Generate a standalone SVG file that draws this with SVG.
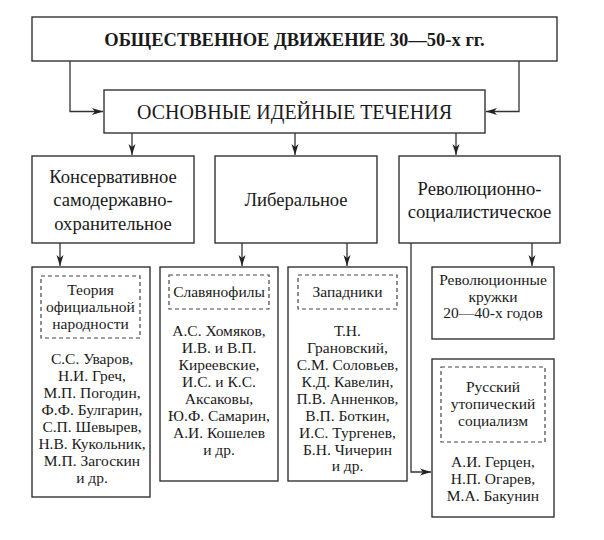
<svg xmlns="http://www.w3.org/2000/svg" width="604" height="540" viewBox="0 0 604 540" font-family="'Liberation Serif', 'Times New Roman', serif">
<style>
.box{fill:#fff;stroke:#333;stroke-width:1.4}
.dash{fill:none;stroke:#444;stroke-width:1.2;stroke-dasharray:4 3}
.ln{fill:none;stroke:#333;stroke-width:1.3}
text{fill:#1a1a1a;text-anchor:middle}
.h1{font-size:18.5px;font-weight:bold}
.h2{font-size:20px}
.t3{font-size:18.6px}
.t4{font-size:15.5px}
</style>
<defs>
<marker id="ar" markerWidth="12" markerHeight="8" refX="11" refY="4" orient="auto" markerUnits="userSpaceOnUse">
<path d="M0,0.5 L11,4 L0,7.5 L3,4 Z" fill="#222"/>
</marker>
</defs>
<rect width="604" height="540" fill="#fff"/>
<g id="connectors">
<path class="ln" d="M70 61 V111.5 H103" marker-end="url(#ar)"/>
<path class="ln" d="M519 61 V111.5 H486" marker-end="url(#ar)"/>
<path class="ln" d="M132 133 V155" marker-end="url(#ar)"/>
<path class="ln" d="M295 133 V155" marker-end="url(#ar)"/>
<path class="ln" d="M456 133 V155" marker-end="url(#ar)"/>
<path class="ln" d="M60 243 V266" marker-end="url(#ar)"/>
<path class="ln" d="M242 243 V266" marker-end="url(#ar)"/>
<path class="ln" d="M347 243 V266" marker-end="url(#ar)"/>
<path class="ln" d="M532 243 V266" marker-end="url(#ar)"/>
<path class="ln" d="M411 243 V472 H431" marker-end="url(#ar)"/>
</g>
<g id="n-top">
<rect class="box" x="32" y="17" width="525" height="44"/>
<text class="h1" x="294.5" y="46">ОБЩЕСТВЕННОЕ ДВИЖЕНИЕ 30—50-х гг.</text>
</g>
<g id="n-main">
<rect class="box" x="104" y="90" width="381" height="43"/>
<text class="h2" x="294.5" y="119">ОСНОВНЫЕ ИДЕЙНЫЕ ТЕЧЕНИЯ</text>
</g>
<g id="n-cons">
<rect class="box" x="32" y="156" width="162" height="87"/>
<text class="t3" x="113" y="183">Консервативное</text>
<text class="t3" x="113" y="206">самодержавно-</text>
<text class="t3" x="113" y="229.5">охранительное</text>
</g>
<g id="n-lib">
<rect class="box" x="215" y="156" width="162" height="87"/>
<text class="t3" x="296" y="206">Либеральное</text>
</g>
<g id="n-rev">
<rect class="box" x="399" y="156" width="161" height="87"/>
<text class="t3" x="479.5" y="195">Революционно-</text>
<text class="t3" x="479.5" y="218">социалистическое</text>
</g>
<g id="n-official">
<rect class="box" x="32" y="267" width="118" height="230"/>
<rect class="dash" x="41" y="276" width="99" height="62"/>
<text class="t4" x="90.5" y="295">Теория</text>
<text class="t4" x="90.5" y="312">официальной</text>
<text class="t4" x="90.5" y="329">народности</text>
<text class="t4" x="92" y="364">С.С. Уваров,</text>
<text class="t4" x="92" y="381">Н.И. Греч,</text>
<text class="t4" x="92" y="398">М.П. Погодин,</text>
<text class="t4" x="92" y="415">Ф.Ф. Булгарин,</text>
<text class="t4" x="92" y="432">С.П. Шевырев,</text>
<text class="t4" x="92" y="449">Н.В. Кукольник,</text>
<text class="t4" x="92" y="466">М.П. Загоскин</text>
<text class="t4" x="92" y="483">и др.</text>
</g>
<g id="n-slav">
<rect class="box" x="160" y="267" width="118" height="214"/>
<rect class="dash" x="169" y="275" width="100" height="34"/>
<text class="t4" x="219" y="297">Славянофилы</text>
<text class="t4" x="219" y="336">А.С. Хомяков,</text>
<text class="t4" x="219" y="353">И.В. и В.П.</text>
<text class="t4" x="219" y="370">Киреевские,</text>
<text class="t4" x="219" y="387">И.С. и К.С.</text>
<text class="t4" x="219" y="404">Аксаковы,</text>
<text class="t4" x="219" y="421">Ю.Ф. Самарин,</text>
<text class="t4" x="219" y="438">А.И. Кошелев</text>
<text class="t4" x="219" y="455">и др.</text>
</g>
<g id="n-west">
<rect class="box" x="288" y="267" width="119" height="214"/>
<rect class="dash" x="298" y="275" width="99" height="34"/>
<text class="t4" x="347.5" y="297">Западники</text>
<text class="t4" x="347.5" y="336">Т.Н.</text>
<text class="t4" x="347.5" y="353">Грановский,</text>
<text class="t4" x="347.5" y="370">С.М. Соловьев,</text>
<text class="t4" x="347.5" y="387">К.Д. Кавелин,</text>
<text class="t4" x="347.5" y="404">П.В. Анненков,</text>
<text class="t4" x="347.5" y="421">В.П. Боткин,</text>
<text class="t4" x="347.5" y="438">И.С. Тургенев,</text>
<text class="t4" x="347.5" y="455">Б.Н. Чичерин</text>
<text class="t4" x="347.5" y="471">и др.</text>
</g>
<g id="n-circles">
<rect class="box" x="432" y="267" width="122" height="72"/>
<text class="t4" x="493" y="285">Революционные</text>
<text class="t4" x="493" y="302">кружки</text>
<text class="t4" x="493" y="318">20—40-х годов</text>
</g>
<g id="n-utopian">
<rect class="box" x="432" y="359" width="122" height="158"/>
<rect class="dash" x="441" y="367" width="104" height="75"/>
<text class="t4" x="493" y="392">Русский</text>
<text class="t4" x="493" y="409">утопический</text>
<text class="t4" x="493" y="426">социализм</text>
<text class="t4" x="493" y="467">А.И. Герцен,</text>
<text class="t4" x="493" y="484">Н.П. Огарев,</text>
<text class="t4" x="493" y="501">М.А. Бакунин</text>
</g>
</svg>
